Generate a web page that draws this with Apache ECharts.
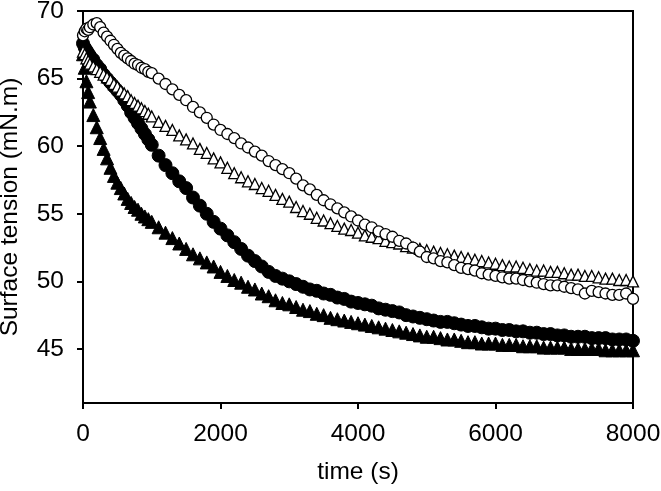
<!DOCTYPE html>
<html>
<head>
<meta charset="utf-8">
<script src="https://cdn.jsdelivr.net/npm/echarts@6/dist/echarts.min.js"></script>
<style>
html,body{margin:0;padding:0;background:#fff;}
#chart{width:661px;height:491px;}
</style>
</head>
<body>
<div id="chart"></div>
<script>
var times = [0,25,50,75,100,150,200,250,300,350,400,450,500,550,600,650,700,750,800,850,900,950,1000,
1100,1200,1300,1400,1500,1600,1700,1800,1900,2000,2100,2200,2300,2400,2500,2600,2700,2800,2900,3000,
3100,3200,3300,3400,3500,3600,3700,3800,3900,4000,4100,4200,4300,4400,4500,4600,4700,4800,4900,5000,
5100,5200,5300,5400,5500,5600,5700,5800,5900,6000,6100,6200,6300,6400,6500,6600,6700,6800,6900,7000,
7100,7200,7300,7400,7500,7600,7700,7800,7900,8000];

var openCircles = [68.2,68.5,68.7,68.6,68.8,69.0,69.1,68.8,68.4,68.1,67.8,67.5,67.2,66.9,66.7,66.5,66.3,66.1,66.0,65.8,65.7,65.5,65.4,
65.0,64.6,64.2,63.8,63.4,62.9,62.5,62.1,61.6,61.2,60.9,60.6,60.2,59.9,59.6,59.3,58.9,58.6,58.3,58.0,
57.6,57.1,56.8,56.4,56.0,55.7,55.4,55.1,54.8,54.5,54.2,54.0,53.7,53.5,53.3,53.0,52.8,52.5,52.2,51.8,
51.7,51.5,51.4,51.2,51.0,50.9,50.8,50.6,50.5,50.4,50.3,50.2,50.2,50.1,50.0,49.9,49.8,49.7,49.7,49.6,
49.5,49.4,49.1,49.3,49.2,49.1,49.0,49.0,49.1,48.7];

var openTriangles = [67.0,66.8,66.5,66.3,66.1,65.9,65.7,65.5,65.3,65.1,64.9,64.6,64.4,64.1,63.9,63.7,63.4,63.2,63.0,62.8,62.6,62.4,62.2,
61.8,61.5,61.2,60.8,60.5,60.2,59.8,59.5,59.1,58.8,58.4,58.0,57.7,57.4,57.2,56.9,56.7,56.4,56.1,55.9,
55.5,55.2,55.0,54.7,54.5,54.3,54.1,53.9,53.8,53.6,53.4,53.3,53.2,53.0,52.9,52.8,52.6,52.5,52.4,52.3,
52.2,52.1,52.0,51.9,51.8,51.7,51.6,51.5,51.4,51.3,51.2,51.1,51.1,51.0,50.9,50.8,50.8,50.7,50.7,50.6,
50.5,50.5,50.4,50.4,50.3,50.2,50.2,50.1,50.1,50.0];

var filledCircles = [67.6,67.3,67.1,66.9,66.7,66.4,66.0,65.7,65.3,65.0,64.7,64.4,64.1,63.8,63.4,63.0,62.5,62.1,61.7,61.3,60.9,60.5,60.1,
59.3,58.6,58.0,57.4,56.9,56.2,55.6,55.0,54.4,53.9,53.4,52.9,52.4,51.9,51.5,51.1,50.7,50.4,50.2,50.0,
49.8,49.6,49.4,49.3,49.1,49.0,48.8,48.7,48.5,48.4,48.3,48.2,48.0,47.9,47.8,47.7,47.5,47.4,47.3,47.2,
47.1,47.0,47.0,46.9,46.8,46.7,46.7,46.6,46.5,46.5,46.4,46.4,46.3,46.3,46.2,46.2,46.1,46.1,46.0,46.0,
45.9,45.9,45.9,45.8,45.8,45.8,45.7,45.7,45.7,45.6];

var filledTriangles = [66.8,65.8,64.8,64.0,63.3,62.3,61.4,60.6,59.8,59.1,58.4,57.8,57.3,56.9,56.5,56.1,55.8,55.5,55.3,55.0,54.8,54.6,54.4,
54.0,53.6,53.2,52.8,52.4,52.0,51.7,51.4,51.1,50.7,50.4,50.1,49.9,49.6,49.4,49.1,48.9,48.6,48.4,48.3,
48.1,47.9,47.8,47.6,47.5,47.3,47.2,47.1,47.0,46.9,46.8,46.7,46.6,46.5,46.4,46.3,46.2,46.1,46.0,45.9,
45.9,45.8,45.7,45.7,45.6,45.5,45.5,45.4,45.4,45.4,45.3,45.3,45.3,45.2,45.2,45.2,45.1,45.1,45.1,45.1,
45.0,45.0,45.0,45.0,45.0,44.9,44.9,44.9,44.9,44.9];

var yTicks = [45,50,55,60,65,70];
var xTitle = 'time (s)';
var yTitle = 'Surface tension (mN.m)';

function pairs(vals){ return times.map(function(t,i){ return [t, vals[i]]; }); }

var FONT = '"Liberation Sans", Arial, sans-serif';
var FS = 24.5;
var chart = echarts.init(document.getElementById('chart'), null, {renderer:'canvas'});
chart.setOption({
  animation: false,
  backgroundColor: '#ffffff',
  grid: {left: 83, right: 28, top: 11, bottom: 88, containLabel: false, outerBoundsMode: 'none',
         show: true, borderColor: '#000', borderWidth: 2, backgroundColor: 'transparent'},
  xAxis: {
    type: 'value', min: 0, max: 8000, interval: 2000,
    name: xTitle, nameLocation: 'middle', nameGap: 57,
    nameTextStyle: {fontFamily: FONT, fontSize: FS, color: '#000'},
    axisLine: {show: true, onZero: false, lineStyle: {color: '#000', width: 2}},
    axisTick: {show: true, inside: false, length: 6, lineStyle: {color: '#000', width: 2}},
    axisLabel: {fontFamily: FONT, fontSize: FS, color: '#000', margin: 19, formatter: function(v){ return String(v); }},
    splitLine: {show: false}
  },
  yAxis: {
    type: 'value', min: 41, max: 70,
    name: yTitle, nameLocation: 'middle', nameGap: 60,
    nameTextStyle: {fontFamily: FONT, fontSize: FS, color: '#000'},
    axisLine: {show: true, onZero: false, lineStyle: {color: '#000', width: 2}},
    axisTick: {show: true, inside: false, length: 6, customValues: yTicks, lineStyle: {color: '#000', width: 2}},
    axisLabel: {fontFamily: FONT, fontSize: FS, color: '#000', margin: 19, customValues: yTicks, formatter: function(v){ return String(v); }},
    splitLine: {show: false}
  },
  series: [
    {type: 'scatter', name: 'filled triangles', data: pairs(filledTriangles), symbol: 'triangle', symbolSize: 13,
     itemStyle: {color: '#000', borderColor: '#000', borderWidth: 1, opacity: 1}, z: 2},
    {type: 'scatter', name: 'filled circles', data: pairs(filledCircles), symbol: 'circle', symbolSize: 13,
     itemStyle: {color: '#000', borderColor: '#000', borderWidth: 1, opacity: 1}, z: 3},
    {type: 'scatter', name: 'open triangles', data: pairs(openTriangles), symbol: 'triangle', symbolSize: 11,
     itemStyle: {color: '#fff', borderColor: '#000', borderWidth: 1.3, opacity: 1}, z: 4},
    {type: 'scatter', name: 'open circles', data: pairs(openCircles), symbol: 'circle', symbolSize: 11,
     itemStyle: {color: '#fff', borderColor: '#000', borderWidth: 1.3, opacity: 1}, z: 5}
  ]
});
</script>
</body>
</html>
